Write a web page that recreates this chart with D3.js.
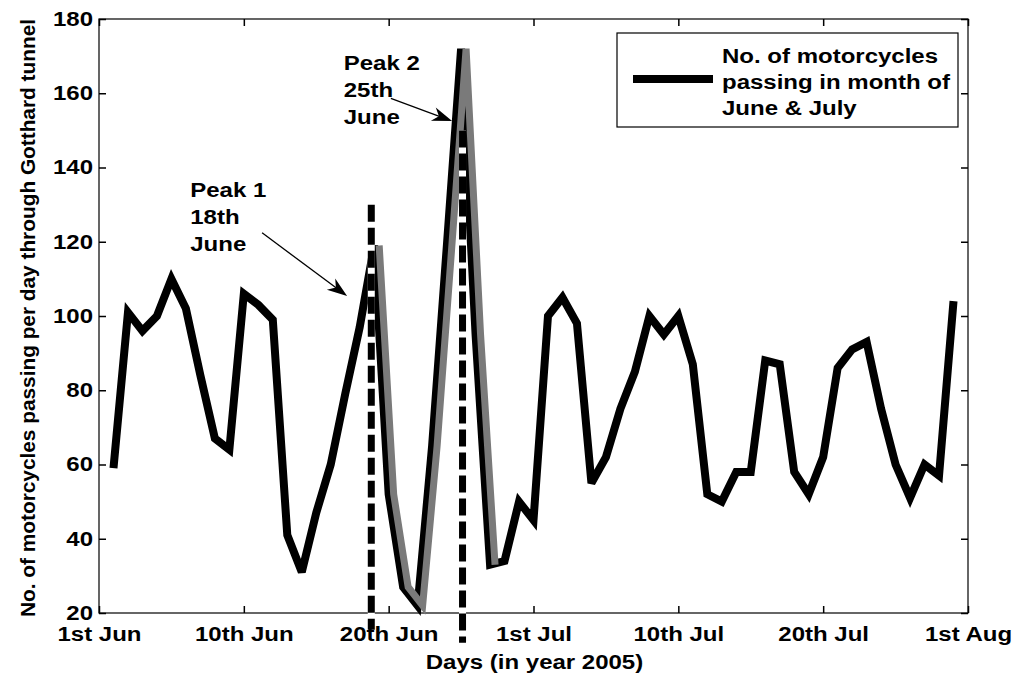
<!DOCTYPE html>
<html>
<head>
<meta charset="utf-8">
<script src="https://cdn.jsdelivr.net/npm/d3@7/dist/d3.min.js"></script>
<style>
  body { margin: 0; background: #fff; }
  svg text { font-family: "Liberation Sans", Arial, sans-serif; font-weight: bold; fill: #000; }
</style>
</head>
<body>
<div id="chart"></div>
<script>
// motorcycles per day, 1st June onwards
var motorcycles = [59, 101, 96, 100, 110, 102, 84, 67, 64, 106,
                   103, 99, 41, 31, 47, 60, 79, 97, 119, 52,
                   27, 22, 65, 118, 172, 95, 33, 34, 50, 45,
                   100, 105, 98, 55, 62, 75, 85, 100, 95, 100,
                   87, 52, 50, 58, 58, 88, 87, 58, 52, 62,
                   86, 91, 93, 75, 60, 51, 60, 57, 104];
var highlightRange = [18, 26];          // indexes of the grey stretch between the peaks
var tickDays = [0, 10, 20, 30, 40, 50, 60];
var tickLabels = ["1st Jun", "10th Jun", "20th Jun", "1st Jul", "10th Jul", "20th Jul", "1st Aug"];
var yTicks = [20, 40, 60, 80, 100, 120, 140, 160, 180];
var peakLines = [{day: 18.8, low: 15.5, high: 130}, {day: 25.1, low: 12, high: 150}];
var peakNotes = [
    {lines: ["Peak 1", "18th", "June"], day: 6.3, val: 132, from: [11.26, 122.4], to: [17.13, 105.4]},
    {lines: ["Peak 2", "25th", "June"], day: 16.9, val: 166.3, from: [20.15, 158.6], to: [24.38, 152.5]}
];
var legendLines = ["No. of motorcycles", "passing in month of", "June & July"];

(function() {
    var width = 1015, height = 676;
    var plotLeft = 99, plotRight = 968, plotTop = 19, plotBottom = 613;
    var stretchK = 1.2;

    var svg = d3.select("#chart").append("svg")
        .attr("width", width)
        .attr("height", height);

    var x = d3.scaleLinear().domain([0, 60]).range([plotLeft, plotRight]);
    var y = d3.scaleLinear().domain([20, 180]).range([plotBottom, plotTop]);

    function stretch(sel, k) {
        sel.each(function() {
            var w = this.getComputedTextLength();
            d3.select(this).attr("textLength", w * k).attr("lengthAdjust", "spacingAndGlyphs");
        });
    }

    // box
    svg.append("rect")
        .attr("x", plotLeft).attr("y", plotTop)
        .attr("width", plotRight - plotLeft).attr("height", plotBottom - plotTop)
        .attr("fill", "none").attr("stroke", "#000").attr("stroke-width", 1.2);

    var gx = svg.append("g")
        .attr("transform", "translate(0," + plotBottom + ")")
        .call(d3.axisBottom(x).tickValues(tickDays)
            .tickFormat(function(d, i) { return tickLabels[i]; })
            .tickSizeInner(-7).tickSizeOuter(0).tickPadding(14));
    svg.append("g")
        .attr("transform", "translate(0," + plotTop + ")")
        .call(d3.axisTop(x).tickValues(tickDays).tickFormat("").tickSizeInner(-7).tickSizeOuter(0));
    var gy = svg.append("g")
        .attr("transform", "translate(" + plotLeft + ",0)")
        .call(d3.axisLeft(y).tickValues(yTicks).tickSizeInner(-7).tickSizeOuter(0).tickPadding(6));
    svg.append("g")
        .attr("transform", "translate(" + plotRight + ",0)")
        .call(d3.axisRight(y).tickValues(yTicks).tickFormat("").tickSizeInner(-7).tickSizeOuter(0));

    svg.selectAll(".domain").remove();
    svg.selectAll(".tick line").attr("stroke", "#000").attr("stroke-width", 1.5);
    svg.selectAll(".tick text").attr("font-size", 20).attr("font-family", null);
    stretch(gx.selectAll(".tick text"), stretchK);
    stretch(gy.selectAll(".tick text"), stretchK);

    // axis titles
    var xt = svg.append("text")
        .attr("x", (plotLeft + plotRight) / 2 + 1).attr("y", 669)
        .attr("text-anchor", "middle").attr("font-size", 20)
        .text("Days (in year 2005)");
    stretch(xt, stretchK);

    svg.append("text")
        .attr("transform", "translate(35," + ((plotTop + plotBottom) / 2 + 2) + ") rotate(-90)")
        .attr("text-anchor", "middle").attr("font-size", 20)
        .attr("textLength", plotBottom - plotTop + 4).attr("lengthAdjust", "spacingAndGlyphs")
        .text("No. of motorcycles passing per day through Gotthard tunnel");

    // data line
    var line = d3.line()
        .x(function(d) { return x(d.i + 1); })
        .y(function(d) { return y(d.v); });

    var pts = motorcycles.map(function(v, i) { return {i: i, v: v}; });

    svg.append("path")
        .datum(pts)
        .attr("d", line)
        .attr("fill", "none")
        .attr("stroke", "#000")
        .attr("stroke-width", 8)
        .attr("stroke-miterlimit", 3);

    // grey copy laid over the stretch between the two peaks, slightly shifted
    svg.append("path")
        .datum(pts.slice(highlightRange[0], highlightRange[1] + 1))
        .attr("d", line)
        .attr("transform", "translate(5,0)")
        .attr("fill", "none")
        .attr("stroke", "#7a7a7a")
        .attr("stroke-width", 7)
        .attr("stroke-miterlimit", 3);

    // dashed marker lines for the two peaks
    peakLines.forEach(function(p) {
        svg.append("line")
            .attr("x1", x(p.day)).attr("x2", x(p.day))
            .attr("y1", y(p.low)).attr("y2", y(p.high))
            .attr("stroke", "#fff").attr("stroke-width", 7);
        svg.append("line")
            .attr("x1", x(p.day)).attr("x2", x(p.day))
            .attr("y1", y(p.high)).attr("y2", y(p.low))
            .attr("stroke", "#000").attr("stroke-width", 7)
            .attr("stroke-dasharray", "17,6");
    });
    gx.raise();

    // annotations with arrows
    peakNotes.forEach(function(n) {
        var t = svg.append("text")
            .attr("x", x(n.day)).attr("y", y(n.val))
            .attr("font-size", 20);
        n.lines.forEach(function(s, k) {
            t.append("tspan").attr("x", x(n.day)).attr("dy", k === 0 ? 0 : 27).text(s);
        });
        stretch(t.selectAll("tspan"), stretchK);

        var x0 = x(n.from[0]), y0 = y(n.from[1]);
        var x1 = x(n.to[0]), y1 = y(n.to[1]);
        var ang = Math.atan2(y1 - y0, x1 - x0);
        var len = 20, half = 7, notch = 6;
        var ux = Math.cos(ang), uy = Math.sin(ang);
        var bx = x1 - ux * len, by = y1 - uy * len;
        svg.append("line")
            .attr("x1", x0).attr("y1", y0)
            .attr("x2", x1 - ux * 10).attr("y2", y1 - uy * 10)
            .attr("stroke", "#000").attr("stroke-width", 1.3);
        var head = [
            [x1, y1],
            [bx - uy * half, by + ux * half],
            [x1 - ux * (len - notch), y1 - uy * (len - notch)],
            [bx + uy * half, by - ux * half]
        ];
        svg.append("path")
            .attr("d", "M" + head.map(function(p) { return p[0] + "," + p[1]; }).join("L") + "Z")
            .attr("fill", "#000");
    });

    // legend
    var lg = svg.append("g").attr("transform", "translate(617,33)");
    lg.append("rect")
        .attr("width", 341).attr("height", 94)
        .attr("fill", "#fff").attr("stroke", "#000").attr("stroke-width", 1.2);
    lg.append("line")
        .attr("x1", 16).attr("x2", 96).attr("y1", 46).attr("y2", 46)
        .attr("stroke", "#000").attr("stroke-width", 8);
    var lt = lg.selectAll(".legend-text")
        .data(legendLines)
        .enter().append("text")
        .attr("class", "legend-text")
        .attr("x", 105)
        .attr("y", function(d, i) { return 30 + i * 26; })
        .attr("font-size", 20)
        .text(function(d) { return d; });
    stretch(lt, stretchK);
})();
</script>
</body>
</html>
